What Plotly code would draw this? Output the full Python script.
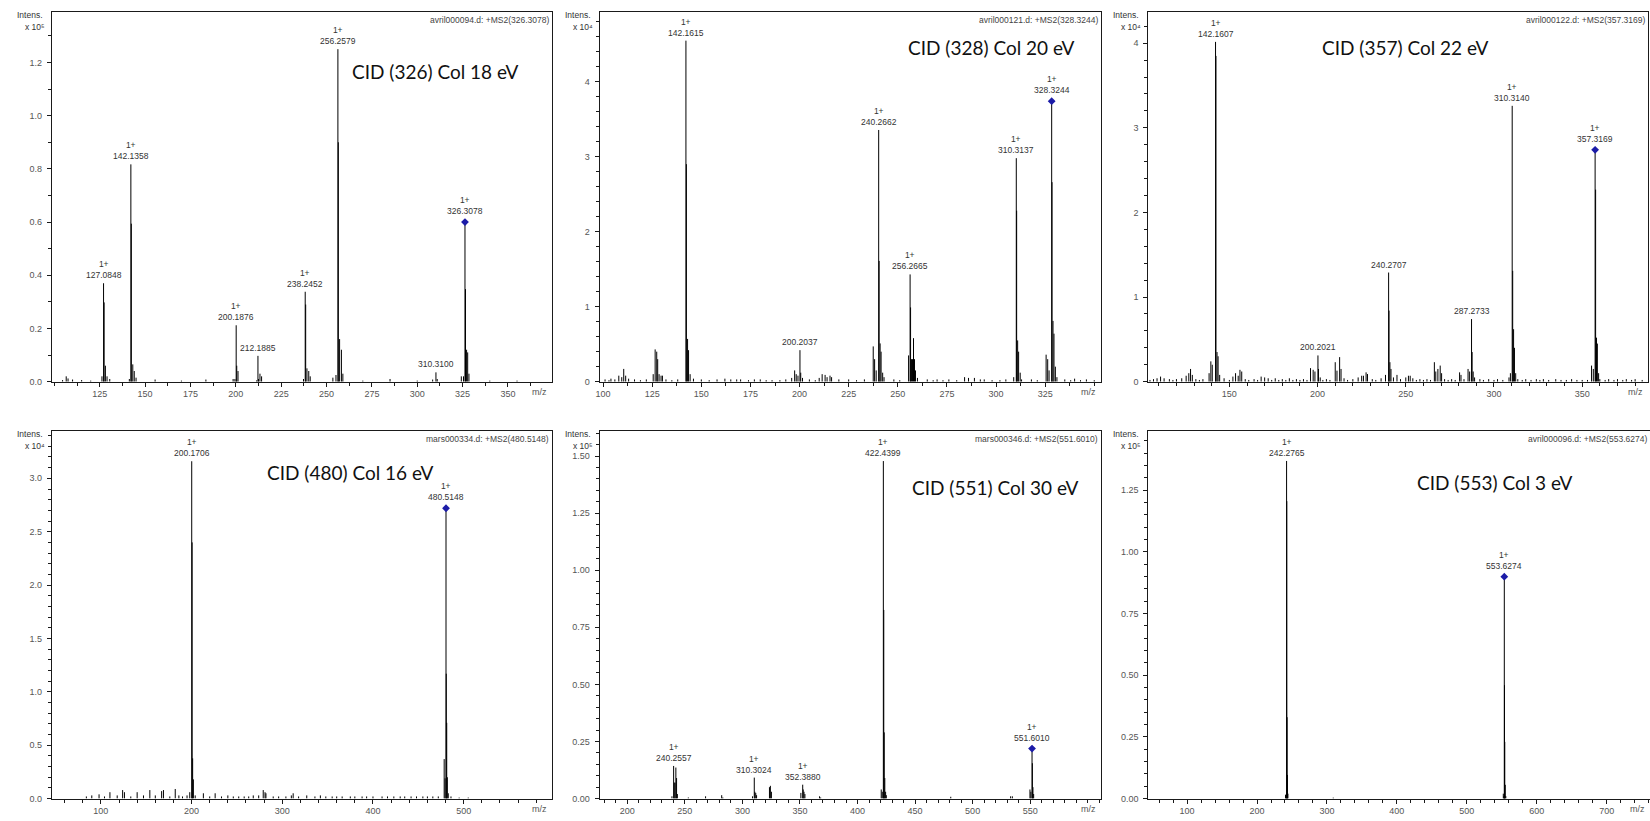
import plotly.graph_objects as go

W, H = 1650, 821

# ---------------- data ----------------
# Panel 1 : intensities x10^5
p1_label_mz = [127.0848, 142.1358, 200.1876, 212.1885, 238.2452, 256.2579, 310.3100, 326.3078]
p1_label_int = [0.370, 0.817, 0.212, 0.097, 0.338, 1.25, 0.035, 0.600]
p1_label_charge = ["1+", "1+", "1+", "", "1+", "1+", "", "1+"]
p1_other_mz = [104.5, 106.5, 107.5, 110, 115, 120, 126.2, 127.4, 128.1, 129, 130.5, 141.3, 142.4, 143.2, 144, 145,
               155.5, 170, 183.5, 198.5, 199.5, 200.5, 201.2, 211.5, 212.5, 213.3, 214.2, 237.3, 238.5,
               239.2, 240.2, 241, 253.5, 255.2, 256.5, 257.2, 258.2, 259, 270, 285, 300, 308.5, 311, 324.3,
               325.5, 326.6, 327.2, 327.8, 328.5, 340, 355]
p1_other_int = [0.006, 0.02, 0.012, 0.008, 0.006, 0.004, 0.02, 0.298, 0.06, 0.02, 0.01, 0.01, 0.594, 0.065, 0.04, 0.015,
                0.008, 0.004, 0.008, 0.01, 0.01, 0.06, 0.04, 0.005, 0.01, 0.03, 0.02, 0.01, 0.29,
                0.05, 0.04, 0.02, 0.015, 0.025, 0.90, 0.16, 0.12, 0.03, 0.004, 0.01, 0.004, 0.008, 0.01, 0.02,
                0.02, 0.348, 0.12, 0.11, 0.03, 0.004, 0.004]
p1_precursor = 326.3078
p1_xticks = [125, 150, 175, 200, 225, 250, 275, 300, 325, 350]
p1_yticks = [0.0, 0.2, 0.4, 0.6, 0.8, 1.0, 1.2]

# Panel 2 : intensities x10^4
p2_label_mz = [142.1615, 200.2037, 240.2662, 256.2665, 310.3137, 328.3244]
p2_label_int = [4.547, 0.42, 3.356, 1.43, 2.98, 3.74]
p2_label_charge = ["1+", "", "1+", "1+", "1+", "1+"]
p2_other_mz = [101, 103, 104, 106, 108, 109.5, 110.5, 111.5, 113, 116, 119, 122,
               125.5, 126.5, 127.3, 127.8, 128.5, 129.5, 130.2, 132, 135, 138,
               142.4, 143.0, 143.5, 144.3, 146, 150, 154, 158, 162, 165, 168, 170, 174, 177, 180, 183, 186, 190, 193,
               196, 197.5, 198.3, 199.2, 200.6, 201.5,
               205, 208, 210, 211.5, 213, 214, 215.5, 216.3, 220, 225, 229, 233,
               237.5, 238.2, 239, 240.5, 241, 241.5, 242.3, 243, 248, 251,
               255.5, 256.5, 257, 257.5, 258, 258.5, 259, 260, 265, 268, 270, 273, 276, 280, 284, 286, 289, 292, 294,
               298, 302, 305,
               309, 310.5, 311, 311.5, 312.3, 313, 318, 321,
               325.5, 326.3, 327, 328.5, 329, 329.5, 330.2, 331, 335, 338, 340, 343, 346, 350]
p2_other_int = [0.03, 0.02, 0.04, 0.03, 0.08, 0.06, 0.17, 0.08, 0.04, 0.03, 0.02, 0.03,
                0.1, 0.43, 0.40, 0.30, 0.10, 0.08, 0.08, 0.03, 0.02, 0.03,
                2.90, 0.57, 0.42, 0.10, 0.04, 0.03, 0.02, 0.03, 0.04, 0.03, 0.03, 0.03, 0.02, 0.03, 0.03, 0.02, 0.02, 0.02, 0.03,
                0.05, 0.15, 0.10, 0.08, 0.12, 0.05,
                0.03, 0.02, 0.05, 0.10, 0.09, 0.06, 0.08, 0.06, 0.03, 0.03, 0.02, 0.03,
                0.47, 0.30, 0.15, 1.61, 0.51, 0.40, 0.12, 0.06, 0.03, 0.02,
                0.35, 0.99, 0.30, 0.30, 0.58, 0.30, 0.15, 0.05, 0.03, 0.02, 0.03, 0.02, 0.03, 0.02, 0.06, 0.05, 0.05, 0.03, 0.03,
                0.02, 0.02, 0.03,
                0.06, 2.28, 0.55, 0.40, 0.12, 0.03, 0.03, 0.02,
                0.36, 0.30, 0.15, 2.66, 0.81, 0.64, 0.20, 0.06, 0.03, 0.02, 0.04, 0.02, 0.03, 0.02]
p2_precursor = 328.3244
p2_xticks = [100, 125, 150, 175, 200, 225, 250, 275, 300, 325]
p2_yticks = [0, 1, 2, 3, 4]

# Panel 3 : intensities x10^4
p3_label_mz = [142.1607, 200.2021, 240.2707, 287.2733, 310.3140, 357.3169]
p3_label_int = [4.016, 0.31, 1.29, 0.74, 3.26, 2.74]
p3_label_charge = ["1+", "", "", "", "1+", "1+"]
p3_other_mz = [105, 107, 109, 111, 113, 116, 118, 120, 123, 125.5, 127, 128, 129, 131, 133, 135,
               138.5, 139.5, 140.3, 142.4, 143, 143.6, 144.5,
               147, 150, 152, 153.5, 155, 156, 157, 159, 161, 164, 166, 168, 170, 172, 174, 176, 178, 180, 182, 184,
               186, 188, 190, 192, 194,
               196, 197.5, 198.5, 200.5, 201.5, 203, 205, 207, 210, 211, 212.5, 213.3, 215, 217, 220, 223, 225, 226,
               227.5, 228.3, 231, 233, 236, 238.5, 240.5, 241, 241.6, 243, 245, 247,
               250, 251.5, 252.5, 254, 256, 258, 260, 262, 264, 266.2, 267, 268.2, 269.5, 270.3, 272, 274, 276, 278,
               280.5, 281.3, 283, 285.3, 286.2, 287.6, 288.2, 289, 292, 294, 297, 300, 302, 305,
               308.5, 309.3, 310.6, 311.1, 311.6, 312.3, 313.5, 316, 318, 321, 324, 326, 328, 331, 335, 338, 341,
               344, 347, 350, 353,
               355.3, 356.3, 357.6, 358.1, 358.6, 359.3, 360, 363, 365, 368, 370, 373, 375, 378, 380, 384]
p3_other_int = [0.02, 0.03, 0.04, 0.06, 0.04, 0.03, 0.02, 0.03, 0.04, 0.07, 0.10, 0.15, 0.08, 0.03, 0.02, 0.03,
                0.10, 0.24, 0.20, 3.85, 0.35, 0.30, 0.08,
                0.04, 0.02, 0.06, 0.10, 0.07, 0.14, 0.12, 0.03, 0.02, 0.03, 0.02, 0.06, 0.05, 0.04, 0.02, 0.04, 0.02, 0.03,
                0.02, 0.04, 0.02, 0.03, 0.02, 0.03, 0.02,
                0.16, 0.14, 0.12, 0.15, 0.05, 0.02, 0.03, 0.02, 0.23, 0.13, 0.29, 0.15, 0.04, 0.02, 0.03, 0.05, 0.07, 0.07,
                0.11, 0.09, 0.03, 0.02, 0.04, 0.08, 0.84, 0.23, 0.15, 0.05, 0.08, 0.03,
                0.05, 0.07, 0.07, 0.04, 0.02, 0.03, 0.02, 0.03, 0.02, 0.23, 0.12, 0.15, 0.19, 0.10, 0.03, 0.02, 0.03, 0.02,
                0.11, 0.08, 0.03, 0.15, 0.12, 0.35, 0.12, 0.05, 0.03, 0.02, 0.03, 0.02, 0.03, 0.02,
                0.05, 0.10, 1.31, 0.62, 0.40, 0.10, 0.03, 0.02, 0.03, 0.02, 0.03, 0.02, 0.03, 0.02, 0.03, 0.02, 0.02,
                0.03, 0.02, 0.02, 0.02,
                0.19, 0.15, 2.27, 0.52, 0.45, 0.10, 0.03, 0.02, 0.03, 0.02, 0.03, 0.02, 0.03, 0.02, 0.03, 0.02]
p3_precursor = 357.3169
p3_xticks = [150, 200, 250, 300, 350]
p3_yticks = [0, 1, 2, 3, 4]

# Panel 4 : intensities x10^4
p4_label_mz = [200.1706, 480.5148]
p4_label_int = [3.16, 2.72]
p4_label_charge = ["1+", "1+"]
p4_other_mz = [84, 90, 98, 104, 110, 118, 124, 126, 133, 140, 147, 154, 160, 167, 169, 176, 182, 186, 190, 195, 198,
               200.6, 201.2, 202, 204, 213, 220, 226, 233, 240, 246, 252, 258, 263, 268, 274, 279, 281, 282,
               290, 296, 304, 310, 312, 318, 327, 336, 342, 348, 355, 360, 366, 375, 380, 388, 393, 400, 410, 416,
               423, 430, 435, 442, 448, 455, 460, 466, 472, 478.5, 479.5, 480.8, 481.3, 482, 483, 486, 495, 505]
p4_other_int = [0.02, 0.03, 0.04, 0.02, 0.06, 0.03, 0.08, 0.06, 0.02, 0.06, 0.03, 0.08, 0.03, 0.07, 0.08, 0.02, 0.09, 0.03, 0.02, 0.03, 0.06,
                2.40, 0.377, 0.18, 0.03, 0.05, 0.02, 0.05, 0.02, 0.03, 0.02, 0.02, 0.02, 0.02, 0.03, 0.03, 0.08, 0.06, 0.05,
                0.02, 0.02, 0.02, 0.03, 0.05, 0.02, 0.03, 0.02, 0.03, 0.02, 0.02, 0.02, 0.02, 0.02, 0.02, 0.02, 0.02, 0.02, 0.02, 0.02,
                0.02, 0.02, 0.02, 0.02, 0.02, 0.02, 0.02, 0.02, 0.02, 0.37, 0.19, 1.17, 0.71, 0.20, 0.05, 0.02, 0.01, 0.01]
p4_precursor = 480.5148
p4_xticks = [100, 200, 300, 400, 500]
p4_yticks = [0.0, 0.5, 1.0, 1.5, 2.0, 2.5, 3.0]

# Panel 5 : intensities x10^5
p5_label_mz = [240.2557, 310.3024, 352.3880, 422.4399, 551.6010]
p5_label_int = [0.143, 0.092, 0.061, 1.478, 0.219]
p5_label_charge = ["1+", "1+", "1+", "1+", "1+"]
p5_other_mz = [238.8, 240.8, 241.5, 242.2, 242.8, 243.5, 253, 268, 282, 283, 308.8, 310.8, 311.6, 312.3,
               323.5, 324.3, 325.2, 350.8, 352.8, 353.5, 354.3, 367, 368, 420.6, 421.5, 422.8, 423.2,
               423.7, 424.4, 425, 481, 533, 534.5, 549.8, 550.6, 551.9, 552.4, 553]
p5_other_int = [0.01, 0.07, 0.07, 0.136, 0.09, 0.02, 0.005, 0.01, 0.015, 0.005, 0.01, 0.03, 0.025, 0.015,
                0.05, 0.056, 0.03, 0.025, 0.04, 0.03, 0.02, 0.01, 0.005, 0.04, 0.03, 0.826, 0.29,
                0.09, 0.03, 0.015, 0.008, 0.01, 0.01, 0.04, 0.03, 0.155, 0.05, 0.02]
p5_precursor = 551.6010
p5_xticks = [200, 250, 300, 350, 400, 450, 500, 550]
p5_yticks = [0.0, 0.25, 0.5, 0.75, 1.0, 1.25, 1.5]

# Panel 6 : intensities x10^5
p6_label_mz = [242.2765, 553.6274]
p6_label_int = [1.369, 0.90]
p6_label_charge = ["1+", "1+"]
p6_other_mz = [240.8, 241.5, 242.6, 243.0, 243.5, 244.2, 309, 552.2, 553.0, 553.9, 554.3, 555, 555.8]
p6_other_int = [0.016, 0.01, 1.206, 0.33, 0.096, 0.02, 0.004, 0.02, 0.01, 0.46, 0.23, 0.056, 0.01]
p6_precursor = 553.6274
p6_xticks = [100, 200, 300, 400, 500, 600, 700]
p6_yticks = [0.0, 0.25, 0.5, 0.75, 1.0, 1.25]

titles = ["CID (326) Col 18 eV", "CID (328) Col 20 eV", "CID (357) Col 22 eV",
          "CID (480) Col 16 eV", "CID (551) Col 30 eV", "CID (553) Col 3 eV"]
headers = ["avril000094.d: +MS2(326.3078)", "avril000121.d: +MS2(328.3244)",
           "avril000122.d: +MS2(357.3169)", "mars000334.d: +MS2(480.5148)",
           "mars000346.d: +MS2(551.6010)", "avril000096.d: +MS2(553.6274)"]
exponents = ["⁵", "⁴", "⁴", "⁴", "⁵", "⁵"]

# ---------------- layout / style (pixels) ----------------
boxes = [  # left, right, top, bottom in px
    (48, 549, 12, 384), (597, 1100, 12, 384), (1147, 1648, 12, 384),
    (48, 549, 434, 803.5), (597, 1100, 434, 803.5), (1147, 1650, 434, 803.5)]
xranges = [(98.6, 374.1), (98.2, 353.6), (104, 387.3), (46, 597), (175.9, 611.8), (44.4, 762)]
yranges = [(0, 1.39), (0, 4.93), (0, 4.37), (0, 3.44), (0, 1.608), (0, 1.489)]
xminor = [12.5, 12.5, 10, 20, 10, 20]
yminor = [0.1, 0.2, 0.2, 0.1, 0.05, 0.05]
yfmt = [".1f", "d", "d", ".1f", ".2f", ".2f"]
title_pos = [(0.768, 0.839), (0.781, 0.903), (0.515, 0.903), (0.597, 0.889), (0.789, 0.848), (0.692, 0.862)]

panels = [
    (p1_label_mz, p1_label_int, p1_label_charge, p1_other_mz, p1_other_int, p1_precursor, p1_xticks, p1_yticks),
    (p2_label_mz, p2_label_int, p2_label_charge, p2_other_mz, p2_other_int, p2_precursor, p2_xticks, p2_yticks),
    (p3_label_mz, p3_label_int, p3_label_charge, p3_other_mz, p3_other_int, p3_precursor, p3_xticks, p3_yticks),
    (p4_label_mz, p4_label_int, p4_label_charge, p4_other_mz, p4_other_int, p4_precursor, p4_xticks, p4_yticks),
    (p5_label_mz, p5_label_int, p5_label_charge, p5_other_mz, p5_other_int, p5_precursor, p5_xticks, p5_yticks),
    (p6_label_mz, p6_label_int, p6_label_charge, p6_other_mz, p6_other_int, p6_precursor, p6_xticks, p6_yticks),
]

AXC = "#1a1a1a"
TICKFONT = dict(family="Liberation Sans, Arial, sans-serif", size=9, color="#555555")
SMALL = "Liberation Sans, Arial, sans-serif"

fig = go.Figure()
annotations = []
layout_axes = {}


def stick_xy(mz, inten):
    xs, ys = [], []
    for m, v in zip(mz, inten):
        xs += [m, m, None]
        ys += [0, v, None]
    return xs, ys


for i, (lmz, lint, lch, omz, oint, prec, xt, yt) in enumerate(panels):
    n = i + 1
    xa = "x" if n == 1 else f"x{n}"
    ya = "y" if n == 1 else f"y{n}"
    xname = "xaxis" if n == 1 else f"xaxis{n}"
    yname = "yaxis" if n == 1 else f"yaxis{n}"
    L, R, T, B = boxes[i]

    xs, ys = stick_xy(list(omz) + list(lmz), list(oint) + list(lint))
    fig.add_trace(go.Scatter(x=xs, y=ys, mode="lines", xaxis=xa, yaxis=ya,
                             line=dict(color="#000000", width=1), showlegend=False,
                             hoverinfo="skip"))
    pi = lmz.index(prec)
    fig.add_trace(go.Scatter(x=[prec], y=[lint[pi]], mode="markers", xaxis=xa, yaxis=ya,
                             marker=dict(symbol="diamond", size=6, color="#1c1ca8",
                                         line=dict(width=0)),
                             showlegend=False, hoverinfo="skip"))

    layout_axes[xname] = dict(
        domain=[L / W, R / W], range=list(xranges[i]), anchor=ya,
        showline=True, linecolor=AXC, linewidth=1, mirror=True,
        ticks="outside", ticklen=4, tickcolor=AXC, tickwidth=1,
        tickmode="array", tickvals=xt, ticktext=[str(v) for v in xt],
        tickfont=TICKFONT, showgrid=False, zeroline=False,
        minor=dict(tickmode="linear", tick0=0, dtick=xminor[i], ticks="outside",
                   ticklen=3, tickcolor=AXC, showgrid=False),
    )
    layout_axes[yname] = dict(
        domain=[1 - B / H, 1 - T / H], range=list(yranges[i]), anchor=xa,
        showline=True, linecolor=AXC, linewidth=1, mirror=(n != 6),
        ticks="outside", ticklen=4, tickcolor=AXC, tickwidth=1,
        tickmode="array", tickvals=yt, tickformat=yfmt[i],
        tickfont=TICKFONT, showgrid=False, zeroline=False, ticklabelstandoff=3,
        minor=dict(tickmode="linear", tick0=0, dtick=yminor[i], ticks="outside",
                   ticklen=3, tickcolor=AXC, showgrid=False),
    )

    xd = f"{xa} domain"
    yd = f"{ya} domain"
    # peak labels
    for m, v, c in zip(lmz, lint, lch):
        txt = f"{c}<br>{m:.4f}" if c else f"{m:.4f}"
        annotations.append(dict(x=m, y=v, xref=xa, yref=ya, text=txt, showarrow=False,
                                xanchor="center", yanchor="bottom",
                                yshift=4 if m == prec else 1,
                                font=dict(family=SMALL, size=8.5, color="#333333")))
    # header
    annotations.append(dict(x=1, y=1, xref=xd, yref=yd, text=headers[i], showarrow=False,
                            xanchor="right", yanchor="top", xshift=-1, yshift=-1,
                            font=dict(family=SMALL, size=8.5, color="#444444")))
    # big title
    tx, ty = title_pos[i]
    annotations.append(dict(x=tx, y=ty, xref=xd, yref=yd, text=titles[i], showarrow=False,
                            xanchor="center", yanchor="middle",
                            font=dict(family="Lato, Open Sans, sans-serif", size=19, color="#111111")))
    # Intens. / x10^n
    annotations.append(dict(x=0, y=1, xref=xd, yref=yd, text="Intens.", showarrow=False,
                            xanchor="right", yanchor="middle", xshift=-7, yshift=-3,
                            font=dict(family=SMALL, size=8.5, color="#333333")))
    annotations.append(dict(x=0, y=1, xref=xd, yref=yd, text=f"x 10{exponents[i]}",
                            showarrow=False, xanchor="right", yanchor="middle", xshift=-5, yshift=-15,
                            font=dict(family=SMALL, size=8.5, color="#333333")))
    # m/z
    annotations.append(dict(x=1, y=0, xref=xd, yref=yd, text="m/z", showarrow=False,
                            xanchor="right", yanchor="middle", xshift=-3, yshift=-10,
                            font=dict(family=SMALL, size=9, color="#555555")))

fig.update_layout(
    width=W, height=H, margin=dict(l=0, r=0, t=0, b=0),
    paper_bgcolor="white", plot_bgcolor="white",
    showlegend=False, annotations=annotations, **layout_axes,
)

fig.write_html("out.html")
